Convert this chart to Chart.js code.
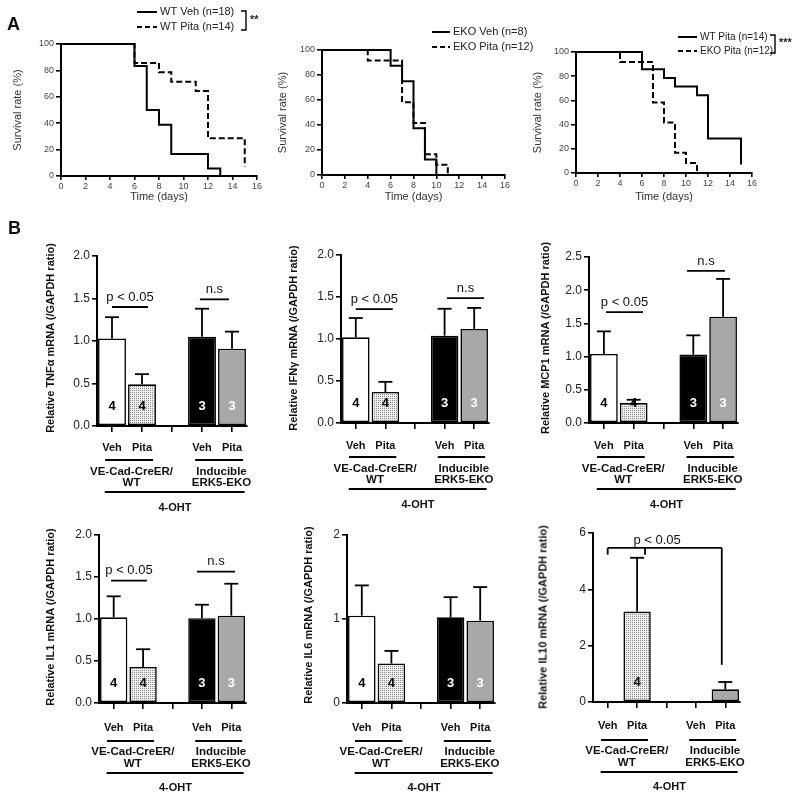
<!DOCTYPE html>
<html>
<head>
<meta charset="utf-8">
<script src="https://cdn.jsdelivr.net/npm/chart.js@4.4.1/dist/chart.umd.min.js"></script>
<style>
  html, body { margin: 0; padding: 0; background: #fff; }
  #fig { position: relative; width: 800px; height: 799px; overflow: hidden;
         font-family: Arial, "Liberation Sans", sans-serif; }
  #fig canvas { position: absolute; left: 0; top: 0; }
  .lbl { position: absolute; white-space: nowrap; color: #111; line-height: 1; }
  .panel { font-weight: bold; font-size: 18px; }
  .vt { transform: translate(-50%, -50%) rotate(-90deg); font-weight: bold; font-size: 11px; }
</style>
</head>
<body>
<div id="fig"></div>
<script>
(function () {
  "use strict";

  const W = 800, H = 799;
  const FONT = 'Arial, "Liberation Sans", sans-serif';

  // ---- A: survival curves (day of each step, % surviving after it) ----
  const wtVehDays   = [0, 6, 7, 8, 9, 12, 13];
  const wtVehSurv   = [100, 83.3, 50, 38.9, 16.7, 5.6, 0];
  const wtPitaDays  = [0, 6, 8, 9, 11, 12, 15];
  const wtPitaSurv  = [100, 85.7, 78.6, 71.4, 64.3, 28.6, 7.1];
  const ekoVehDays  = [0, 6, 7, 8, 9, 10];
  const ekoVehSurv  = [100, 87.5, 75, 37.5, 12.5, 0];
  const ekoPitaDays = [0, 4, 7, 8, 9, 10, 11];
  const ekoPitaSurv = [100, 91.7, 58.3, 41.7, 16.7, 8.3, 0];

  // ---- B: relative mRNA (mean, mean + SEM) ----
  const barCats   = ["Veh", "Pita", "", "Veh", "Pita"];
  const genoLines = [["VE-Cad-CreER/", "WT"], ["Inducible", "ERK5-EKO"]];
  const treatText = "4-OHT";
  const nMice     = [4, 4, null, 3, 3];
  const il10N     = [null, 4, null, null, null];

  const tnfMean  = [1.03, 0.49, null, 1.05, 0.91];
  const tnfErr   = [1.28, 0.61, null, 1.38, 1.11];
  const ifnMean  = [1.02, 0.37, null, 1.04, 1.12];
  const ifnErr   = [1.25, 0.49, null, 1.36, 1.37];
  const mcpMean  = [1.04, 0.30, null, 1.03, 1.60];
  const mcpErr   = [1.38, 0.35, null, 1.32, 2.17];
  const il1Mean  = [1.02, 0.43, null, 1.01, 1.04];
  const il1Err   = [1.27, 0.64, null, 1.17, 1.42];
  const il6Mean  = [1.04, 0.47, null, 1.02, 0.98];
  const il6Err   = [1.40, 0.62, null, 1.26, 1.38];
  const il10Mean = [null, 3.21, null, null, 0.45];
  const il10Err  = [null, 5.12, null, null, 0.71];

  const fig = document.getElementById("fig");

  function addCanvas() {
    const cv = document.createElement("canvas");
    cv.width = W; cv.height = H;
    fig.appendChild(cv);
    return cv;
  }

  function addLabel(text, x, y, cls) {
    const d = document.createElement("div");
    d.className = "lbl " + cls;
    d.textContent = text;
    d.style.left = x + "px"; d.style.top = y + "px";
    fig.appendChild(d);
  }

  // chart area l/t/r/b in page px, yw = y axis box width, xh = x axis box height
  function place(opts, box) {
    opts.layout = { padding: { left: box.l - box.yw, top: box.t, right: W - box.r, bottom: H - box.b - box.xh } };
    opts.scales.x.afterFit = s => { s.height = box.xh; };
    opts.scales.y.afterFit = s => { s.width = box.yw; };
    return opts;
  }

  function dotPattern() {
    const c = document.createElement("canvas");
    c.width = 2; c.height = 2;
    const g = c.getContext("2d");
    g.fillStyle = "#eeeeee"; g.fillRect(0, 0, 2, 2);
    g.fillStyle = "#8a8a8a"; g.fillRect(0, 0, 1, 1);
    return g.createPattern(c, "repeat");
  }

  const axisGrid = (len) => ({ display: true, drawOnChartArea: false, drawTicks: true, tickLength: len, color: "#000", lineWidth: 1.6 });
  const axisBorder = { display: true, color: "#000", width: 2 };

  // ---------- survival legend + bracket ----------
  const survLegend = {
    id: "survLegend",
    afterDraw(chart, args, o) {
      const ctx = chart.ctx;
      ctx.save();
      ctx.strokeStyle = "#000"; ctx.fillStyle = "#222"; ctx.lineWidth = 2;
      ctx.font = o.size + "px " + FONT; ctx.textBaseline = "middle"; ctx.textAlign = "left";
      o.items.forEach(it => {
        ctx.setLineDash(it.dash ? [5, 3] : []);
        ctx.beginPath(); ctx.moveTo(o.x0, it.y); ctx.lineTo(o.x1, it.y); ctx.stroke();
        ctx.fillText(it.text, o.x1 + 3, it.y);
      });
      ctx.setLineDash([]);
      if (o.bracket) {
        const b = o.bracket;
        ctx.lineWidth = 1.4;
        ctx.beginPath();
        ctx.moveTo(b.x - 5, b.y0); ctx.lineTo(b.x, b.y0); ctx.lineTo(b.x, b.y1); ctx.lineTo(b.x - 5, b.y1);
        ctx.stroke();
        ctx.font = "bold 11px " + FONT;
        ctx.fillText(b.stars, b.x + 4, (b.y0 + b.y1) / 2 - 1);
      }
      ctx.restore();
    }
  };

  function survivalChart(box, series, legend) {
    new Chart(addCanvas(), {
      type: "scatter",
      data: {
        datasets: series.map(s => ({
          data: s.days.map((d, i) => ({ x: d, y: s.surv[i] })),
          showLine: true, stepped: "before", fill: false, clip: false,
          borderColor: "#000", borderWidth: 2, borderDash: s.dash ? [6, 3] : [],
          pointRadius: 0
        }))
      },
      options: place({
        responsive: false, animation: false, events: [],
        plugins: { legend: { display: false }, tooltip: { enabled: false }, survLegend: legend },
        scales: {
          x: {
            type: "linear", min: 0, max: 16,
            ticks: { stepSize: 2, color: "#444", padding: 1, maxRotation: 0, autoSkip: false, font: { family: FONT, size: 9 } },
            grid: axisGrid(4), border: axisBorder,
            title: { display: true, text: "Time (days)", color: "#333", font: { family: FONT, size: 11 }, padding: { top: 0, bottom: 1.4 } }
          },
          y: {
            min: 0, max: 100,
            ticks: { stepSize: 20, color: "#444", padding: 2, font: { family: FONT, size: 9 } },
            grid: axisGrid(5), border: axisBorder,
            title: { display: true, text: "Survival rate (%)", color: "#333", font: { family: FONT, size: 11 }, padding: { top: box.tp, bottom: 0 } }
          }
        }
      }, box),
      plugins: [survLegend]
    });
  }

  // ---------- bar decorations: error bars, n, significance, group labels ----------
  const barDecor = {
    id: "barDecor",
    afterDraw(chart, args, o) {
      const ctx = chart.ctx, xs = chart.scales.x, ys = chart.scales.y;
      const meta = chart.getDatasetMeta(0);
      const px = v => xs.getPixelForValue(v);
      const line = (x0, y0, x1, y1) => { ctx.beginPath(); ctx.moveTo(x0, y0); ctx.lineTo(x1, y1); ctx.stroke(); };
      ctx.save();
      ctx.strokeStyle = "#000"; ctx.lineWidth = 1.8;

      o.err.forEach((e, i) => {
        if (e == null) return;
        const bar = meta.data[i];
        const top = ys.getPixelForValue(e);
        line(bar.x, bar.y, bar.x, top);
        line(bar.x - 7, top, bar.x + 7, top);
      });

      ctx.textAlign = "center"; ctx.textBaseline = "middle";
      ctx.font = "bold 13px " + FONT;
      o.n.forEach((n, i) => {
        if (n == null) return;
        ctx.fillStyle = o.nColor[i];
        ctx.fillText(String(n), px(i), ys.bottom - 20);
      });

      ctx.fillStyle = "#111";
      ctx.font = "13px " + FONT;
      (o.sig || []).forEach(s => {
        const y = ys.getPixelForValue(s.v);
        line(px(s.a), y, px(s.b), y);
        ctx.fillText(s.text, (px(s.a) + px(s.b)) / 2, y - 10);
      });
      if (o.bracket) {
        const b = o.bracket, yt = ys.getPixelForValue(b.v);
        line(px(b.xs[0]), yt, px(b.xs[b.xs.length - 1]), yt);
        b.xs.forEach((x, k) => line(px(x), yt, px(x), ys.getPixelForValue(b.legs[k])));
        ctx.fillText(b.text, px(b.tx), yt - 8);
      }

      // genotype / treatment labels under the axis
      const base = xs.top, g = o.under;
      ctx.font = "bold 11.5px " + FONT;
      [[0, 1], [3, 4]].forEach(([a, b], k) => {
        line(px(a - 0.23), base + g[0], px(b + 0.37), base + g[0]);
        const cx = px((a + b) / 2 + 0.15);
        ctx.fillText(genoLines[k][0], cx, base + g[1]);
        ctx.fillText(genoLines[k][1], cx, base + g[2]);
      });
      line(px(-0.24), base + g[3], px(4.42), base + g[3]);
      ctx.font = "bold 11px " + FONT;
      ctx.fillText(treatText, px(2.1), base + g[4]);
      ctx.restore();
    }
  };

  const dots = dotPattern();
  const barFill = ["#ffffff", dots, "rgba(0,0,0,0)", "#000000", "#a8a8a8"];
  const nColor  = ["#000", "#000", "#000", "#fff", "#fff"];

  function barChart(box, s) {
    new Chart(addCanvas(), {
      type: "bar",
      data: {
        labels: barCats,
        datasets: [{
          data: s.mean, backgroundColor: barFill, borderColor: "#000", borderWidth: 1.6,
          borderSkipped: false, barPercentage: 0.93, categoryPercentage: 1
        }]
      },
      options: place({
        responsive: false, animation: false, events: [],
        plugins: {
          legend: { display: false }, tooltip: { enabled: false },
          barDecor: { err: s.err, n: s.n, nColor, sig: s.sig, bracket: s.bracket, under: s.under }
        },
        scales: {
          x: {
            offset: true,
            ticks: { color: "#111", padding: s.tickPad, maxRotation: 0, autoSkip: false, font: { family: FONT, size: 11, weight: "bold" } },
            grid: Object.assign(axisGrid(6), { offset: false }), border: axisBorder
          },
          y: {
            min: 0, max: s.max,
            ticks: { stepSize: s.step, color: "#222", padding: 2, font: { family: FONT, size: 12 }, callback: v => Number(v).toFixed(s.dec) },
            grid: axisGrid(5), border: axisBorder
          }
        }
      }, box),
      plugins: [barDecor]
    });
    addLabel(s.title, s.tx, s.ty, "vt");
  }

  // ---------- A ----------
  survivalChart({ l: 61, t: 44, r: 257, b: 176, yw: 61, xh: 29, tp: 11.4 },
    [{ days: wtVehDays, surv: wtVehSurv }, { days: wtPitaDays, surv: wtPitaSurv, dash: true }],
    { size: 11, x0: 137, x1: 157, items: [{ y: 12, text: "WT Veh (n=18)" }, { y: 27, text: "WT Pita (n=14)", dash: true }],
      bracket: { x: 246, y0: 11, y1: 30, stars: "**" } });

  survivalChart({ l: 322, t: 50, r: 505, b: 175, yw: 60, xh: 30, tp: 14.4 },
    [{ days: ekoVehDays, surv: ekoVehSurv }, { days: ekoPitaDays, surv: ekoPitaSurv, dash: true }],
    { size: 11, x0: 432, x1: 450, items: [{ y: 32, text: "EKO Veh (n=8)" }, { y: 47, text: "EKO Pita (n=12)", dash: true }] });

  survivalChart({ l: 576, t: 52, r: 752, b: 173, yw: 56, xh: 32, tp: 11.4 },
    [{ days: wtPitaDays, surv: wtPitaSurv }, { days: ekoPitaDays, surv: ekoPitaSurv, dash: true }],
    { size: 10, x0: 678, x1: 697, items: [{ y: 37, text: "WT Pita (n=14)" }, { y: 51, text: "EKO Pita (n=12)", dash: true }],
      bracket: { x: 775, y0: 35, y1: 53, stars: "***" } });

  // ---------- B ----------
  const row1 = [34, 46, 57, 66, 82], row2 = [38, 49, 61, 70, 85];

  barChart({ l: 97, t: 256, r: 247, b: 426, yw: 40, xh: 90 }, {
    mean: tnfMean, err: tnfErr, n: nMice, max: 2, step: 0.5, dec: 1, tickPad: 9, under: row1,
    sig: [{ a: 0, b: 1.2, v: 1.40, text: "p < 0.05" }, { a: 2.93, b: 3.9, v: 1.49, text: "n.s" }],
    title: "Relative TNFα mRNA (/GAPDH ratio)", tx: 50, ty: 338
  });
  barChart({ l: 341, t: 255, r: 489, b: 423, yw: 40, xh: 90 }, {
    mean: ifnMean, err: ifnErr, n: nMice, max: 2, step: 0.5, dec: 1, tickPad: 10, under: row1,
    sig: [{ a: 0, b: 1.25, v: 1.356, text: "p < 0.05" }, { a: 3.08, b: 4.33, v: 1.487, text: "n.s" }],
    title: "Relative IFNγ mRNA (/GAPDH ratio)", tx: 293, ty: 338
  });
  barChart({ l: 589, t: 257, r: 738, b: 423, yw: 40, xh: 90 }, {
    mean: mcpMean, err: mcpErr, n: nMice, max: 2.5, step: 0.5, dec: 1, tickPad: 10, under: row1,
    sig: [{ a: 0.07, b: 1.31, v: 1.67, text: "p < 0.05" }, { a: 2.79, b: 4.06, v: 2.29, text: "n.s" }],
    title: "Relative MCP1 mRNA (/GAPDH ratio)", tx: 545, ty: 338
  });
  barChart({ l: 99, t: 535, r: 246, b: 703, yw: 40, xh: 92 }, {
    mean: il1Mean, err: il1Err, n: nMice, max: 2, step: 0.5, dec: 1, tickPad: 12, under: row2,
    sig: [{ a: -0.09, b: 1.13, v: 1.456, text: "p < 0.05" }, { a: 2.83, b: 4.13, v: 1.563, text: "n.s" }],
    title: "Relative IL1 mRNA (/GAPDH ratio)", tx: 50, ty: 617
  });
  barChart({ l: 347, t: 535, r: 495, b: 703, yw: 40, xh: 92 }, {
    mean: il6Mean, err: il6Err, n: nMice, max: 2, step: 1, dec: 0, tickPad: 12, under: row2,
    title: "Relative IL6 mRNA (/GAPDH ratio)", tx: 308, ty: 615
  });
  barChart({ l: 593, t: 533, r: 740, b: 702, yw: 40, xh: 93 }, {
    mean: il10Mean, err: il10Err, n: il10N, max: 6, step: 2, dec: 0, tickPad: 11, under: row2,
    bracket: { v: 5.47, xs: [0, 1.27, 3.88], legs: [5.23, 5.23, 1.32], tx: 1.68, text: "p < 0.05" },
    title: "Relative IL10 mRNA (/GAPDH ratio)", tx: 543, ty: 617
  });

  addLabel("A", 7, 15, "panel");
  addLabel("B", 8, 219, "panel");
})();
</script>
</body>
</html>
